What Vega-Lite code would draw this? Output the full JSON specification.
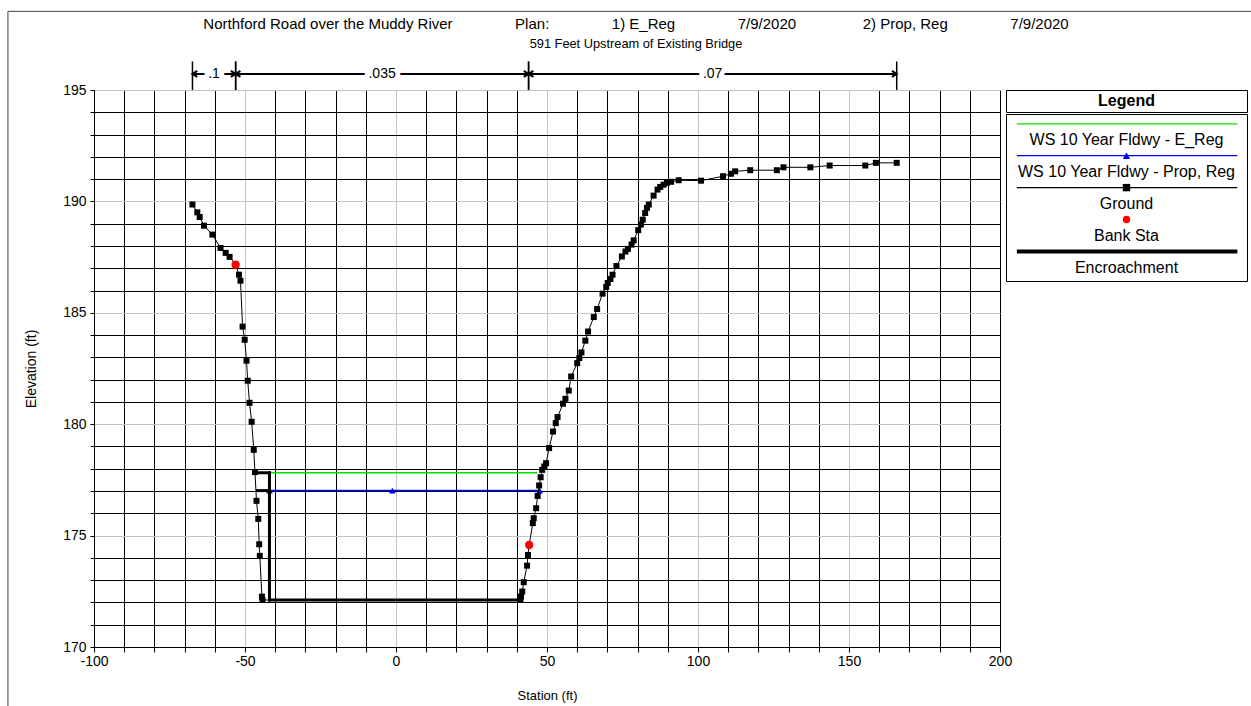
{
  "$schema": "https://vega.github.io/schema/vega-lite/v6.json",
  "autosize": {"type": "none"},
  "padding": {"left": 94, "top": 90, "right": 1157, "bottom": 616},
  "background": "white",
  "bounds": "flush",
  "spacing": 6,
  "title": {
    "text": "Northford Road over the Muddy River\u00a0\u00a0\u00a0\u00a0\u00a0\u00a0\u00a0\u00a0\u00a0\u00a0\u00a0\u00a0\u00a0\u00a0\u00a0Plan:\u00a0\u00a0\u00a0\u00a0\u00a0\u00a0\u00a0\u00a0\u00a0\u00a0\u00a0\u00a0\u00a0\u00a0\u00a01) E_Reg\u00a0\u00a0\u00a0\u00a0\u00a0\u00a0\u00a0\u00a0\u00a0\u00a0\u00a0\u00a0\u00a0\u00a0\u00a07/9/2020\u00a0\u00a0\u00a0\u00a0\u00a0\u00a0\u00a0\u00a0\u00a0\u00a0\u00a0\u00a0\u00a0\u00a0\u00a0\u00a02) Prop, Reg\u00a0\u00a0\u00a0\u00a0\u00a0\u00a0\u00a0\u00a0\u00a0\u00a0\u00a0\u00a0\u00a0\u00a0\u00a07/9/2020",
    "subtitle": "591 Feet Upstream of Existing Bridge",
    "fontSize": 15,
    "fontWeight": "normal",
    "subtitleFontSize": 12.8,
    "subtitlePadding": 6,
    "anchor": "middle",
    "frame": "group",
    "dx": 542,
    "offset": -40,
    "color": "black",
    "subtitleColor": "black"
  },
  "config": {
    "font": "Liberation Sans",
    "view": {"stroke": null},
    "axis": {
      "labelFont": "Liberation Sans",
      "titleFont": "Liberation Sans",
      "labelColor": "black",
      "titleColor": "black",
      "titleFontWeight": "normal",
      "domainColor": "black",
      "tickColor": "black",
      "labelFlush": false,
      "labelOverlap": false,
      "labelBound": false
    },
    "axisX": {"tickCount": 60},
    "axisY": {"tickCount": 60}
  },
  "datasets": {
    "ground": [
      {"station": -67.4, "elevation": 189.86},
      {"station": -65.8, "elevation": 189.51},
      {"station": -65.0, "elevation": 189.30},
      {"station": -63.6, "elevation": 188.91},
      {"station": -60.8, "elevation": 188.51},
      {"station": -58.1, "elevation": 187.91},
      {"station": -56.4, "elevation": 187.69},
      {"station": -55.1, "elevation": 187.51},
      {"station": -53.1, "elevation": 187.16},
      {"station": -52.0, "elevation": 186.71},
      {"station": -51.5, "elevation": 186.44},
      {"station": -50.8, "elevation": 184.38},
      {"station": -50.1, "elevation": 183.79},
      {"station": -49.5, "elevation": 182.85},
      {"station": -49.1, "elevation": 181.95},
      {"station": -48.5, "elevation": 180.96},
      {"station": -47.8, "elevation": 180.11},
      {"station": -47.1, "elevation": 178.85},
      {"station": -46.7, "elevation": 177.85},
      {"station": -46.2, "elevation": 176.56},
      {"station": -45.6, "elevation": 175.75},
      {"station": -45.3, "elevation": 174.61},
      {"station": -45.1, "elevation": 174.09},
      {"station": -44.4, "elevation": 172.26},
      {"station": -44.2, "elevation": 172.11},
      {"station": 41.2, "elevation": 172.11},
      {"station": 41.4, "elevation": 172.26},
      {"station": 41.8, "elevation": 172.49},
      {"station": 42.3, "elevation": 172.91},
      {"station": 43.4, "elevation": 173.65},
      {"station": 43.7, "elevation": 174.13},
      {"station": 44.1, "elevation": 174.58},
      {"station": 45.3, "elevation": 175.56},
      {"station": 45.6, "elevation": 175.78},
      {"station": 46.4, "elevation": 176.23},
      {"station": 46.9, "elevation": 176.78},
      {"station": 47.4, "elevation": 177.25},
      {"station": 47.9, "elevation": 177.62},
      {"station": 48.4, "elevation": 177.95},
      {"station": 49.1, "elevation": 178.10},
      {"station": 49.7, "elevation": 178.25},
      {"station": 50.7, "elevation": 178.93},
      {"station": 52.0, "elevation": 179.67},
      {"station": 52.9, "elevation": 180.05},
      {"station": 53.5, "elevation": 180.32},
      {"station": 55.3, "elevation": 180.92},
      {"station": 56.1, "elevation": 181.14},
      {"station": 57.2, "elevation": 181.51},
      {"station": 58.0, "elevation": 182.14},
      {"station": 60.0, "elevation": 182.74},
      {"station": 60.7, "elevation": 182.97},
      {"station": 61.4, "elevation": 183.22},
      {"station": 62.7, "elevation": 183.75},
      {"station": 63.6, "elevation": 184.16},
      {"station": 65.5, "elevation": 184.81},
      {"station": 66.6, "elevation": 185.17},
      {"station": 68.4, "elevation": 185.86},
      {"station": 69.6, "elevation": 186.16},
      {"station": 70.1, "elevation": 186.34},
      {"station": 71.0, "elevation": 186.52},
      {"station": 71.7, "elevation": 186.71},
      {"station": 73.0, "elevation": 187.10},
      {"station": 74.8, "elevation": 187.53},
      {"station": 76.0, "elevation": 187.75},
      {"station": 76.8, "elevation": 187.87},
      {"station": 78.0, "elevation": 188.06},
      {"station": 78.7, "elevation": 188.25},
      {"station": 80.2, "elevation": 188.71},
      {"station": 81.1, "elevation": 188.96},
      {"station": 81.7, "elevation": 189.18},
      {"station": 82.5, "elevation": 189.48},
      {"station": 83.1, "elevation": 189.71},
      {"station": 83.7, "elevation": 189.86},
      {"station": 85.3, "elevation": 190.26},
      {"station": 86.6, "elevation": 190.53},
      {"station": 87.5, "elevation": 190.65},
      {"station": 88.6, "elevation": 190.75},
      {"station": 89.7, "elevation": 190.83},
      {"station": 91.1, "elevation": 190.88},
      {"station": 93.6, "elevation": 190.95},
      {"station": 101.0, "elevation": 190.93},
      {"station": 108.3, "elevation": 191.13},
      {"station": 110.9, "elevation": 191.24},
      {"station": 112.3, "elevation": 191.35},
      {"station": 117.3, "elevation": 191.40},
      {"station": 126.1, "elevation": 191.40},
      {"station": 128.3, "elevation": 191.53},
      {"station": 137.2, "elevation": 191.53},
      {"station": 143.6, "elevation": 191.61},
      {"station": 155.4, "elevation": 191.61},
      {"station": 158.9, "elevation": 191.73},
      {"station": 165.8, "elevation": 191.73}
    ],
    "bank": [
      {"station": -53.1, "elevation": 187.16},
      {"station": 44.1, "elevation": 174.58}
    ],
    "ws": [
      {"plan": "E_Reg", "station": -41.8, "elevation": 177.82},
      {"plan": "E_Reg", "station": 46.7, "elevation": 177.82},
      {"plan": "Prop, Reg", "station": -41.9, "elevation": 177.02},
      {"plan": "Prop, Reg", "station": -1.2, "elevation": 177.02},
      {"plan": "Prop, Reg", "station": 47.6, "elevation": 177.02}
    ],
    "encroachment": [
      {"station": -46.7, "elevation": 177.82, "station_end": -41.9, "elevation_end": 177.82},
      {"station": -45.9, "elevation": 177.02, "station_end": -41.9, "elevation_end": 177.02},
      {"station": -41.9, "elevation": 177.82, "station_end": -41.9, "elevation_end": 172.11},
      {"station": -41.9, "elevation": 172.11, "station_end": 41.2, "elevation_end": 172.11}
    ],
    "nvalues": [
      {"n": ".1", "from": -67.4, "to": -53.1, "mid": -60.25},
      {"n": ".035", "from": -53.1, "to": 43.9, "mid": -4.6},
      {"n": ".07", "from": 43.9, "to": 165.8, "mid": 104.85}
    ],
    "frame": [
      {"left": -128.5, "right": 420, "top": 198.53, "bottom": 150}
    ],
    "legend": [
      {"series": "WS 10 Year Fldwy - E_Reg"},
      {"series": "WS 10 Year Fldwy - Prop, Reg"},
      {"series": "Ground"},
      {"series": "Bank Sta"},
      {"series": "Encroachment"}
    ]
  },
  "hconcat": [
    {
      "width": 906,
      "height": 557,
      "layer": [
        {
          "data": {"name": "ws"},
          "transform": [{"filter": "datum.plan === 'E_Reg'"}],
          "mark": {"type": "line", "color": "#00e000", "strokeWidth": 1.5},
          "encoding": {
            "x": {
              "field": "station", "type": "quantitative", "title": "Station (ft)",
              "scale": {"domain": [-100, 200], "nice": false, "zero": false},
              "axis": {
                "values": [-100, -90, -80, -70, -60, -50, -40, -30, -20, -10, 0, 10, 20, 30, 40, 50, 60, 70, 80, 90, 100, 110, 120, 130, 140, 150, 160, 170, 180, 190, 200],
                "tickCount": 60,
                "labelExpr": "datum.value % 50 === 0 ? '' + datum.value : ''",
                "grid": true,
                "gridColor": {"condition": {"test": "datum.value % 50 === 0 && datum.value > -100 && datum.value < 200", "value": "#c4c4c4"}, "value": "black"},
                "gridWidth": 1,
                "tickSize": 5,
                "labelFontSize": 14,
                "labelPadding": 2,
                "titleFontSize": 13,
                "titlePadding": 21
              }
            },
            "y": {
              "field": "elevation", "type": "quantitative", "title": "Elevation (ft)",
              "scale": {"domain": [170, 195], "nice": false, "zero": false},
              "axis": {
                "values": [170, 171, 172, 173, 174, 175, 176, 177, 178, 179, 180, 181, 182, 183, 184, 185, 186, 187, 188, 189, 190, 191, 192, 193, 194, 195],
                "tickCount": 60,
                "labelExpr": "datum.value % 5 === 0 ? '' + datum.value : ''",
                "grid": true,
                "gridColor": {"condition": {"test": "datum.value % 5 === 0 && datum.value > 170", "value": "#c4c4c4"}, "value": "black"},
                "gridWidth": 1,
                "tickSize": 4,
                "labelFontSize": 14,
                "labelPadding": 4,
                "titleFontSize": 14,
                "titlePadding": 24
              }
            }
          }
        },
        {
          "data": {"name": "ws"},
          "transform": [{"filter": "datum.plan === 'Prop, Reg'"}],
          "mark": {"type": "line", "color": "#0000ff", "strokeWidth": 1.5, "point": {"shape": "triangle-up", "size": 45, "filled": true, "color": "#0000ff"}},
          "encoding": {
            "x": {"field": "station", "type": "quantitative", "title": "Station (ft)"},
            "y": {"field": "elevation", "type": "quantitative", "title": "Elevation (ft)"}
          }
        },
        {
          "data": {"name": "ground"},
          "mark": {"type": "line", "color": "black", "strokeWidth": 1, "point": {"shape": "square", "size": 36, "filled": true, "color": "black"}},
          "encoding": {
            "x": {"field": "station", "type": "quantitative", "title": "Station (ft)"},
            "y": {"field": "elevation", "type": "quantitative", "title": "Elevation (ft)"}
          }
        },
        {
          "data": {"name": "encroachment"},
          "mark": {"type": "rule", "color": "black", "strokeWidth": 3, "strokeCap": "square"},
          "encoding": {
            "x": {"field": "station", "type": "quantitative", "title": "Station (ft)"},
            "x2": {"field": "station_end"},
            "y": {"field": "elevation", "type": "quantitative", "title": "Elevation (ft)"},
            "y2": {"field": "elevation_end"}
          }
        },
        {
          "data": {"name": "bank"},
          "mark": {"type": "point", "shape": "circle", "size": 70, "filled": true, "color": "#ff0000", "opacity": 1},
          "encoding": {
            "x": {"field": "station", "type": "quantitative", "title": "Station (ft)"},
            "y": {"field": "elevation", "type": "quantitative", "title": "Elevation (ft)"}
          }
        },
        {
          "data": {"name": "frame"},
          "mark": {"type": "rect", "fill": null, "fillOpacity": 0, "stroke": "#444444", "strokeWidth": 1},
          "encoding": {
            "x": {"field": "left", "type": "quantitative", "title": "Station (ft)"},
            "x2": {"field": "right"},
            "y": {"field": "top", "type": "quantitative", "title": "Elevation (ft)"},
            "y2": {"field": "bottom"}
          }
        },
        {
          "data": {"name": "nvalues"},
          "mark": {"type": "rule", "color": "black", "strokeWidth": 1.5},
          "encoding": {
            "x": {"field": "from", "type": "quantitative", "title": "Station (ft)"},
            "y": {"datum": 195},
            "y2": {"datum": 196.28}
          }
        },
        {
          "data": {"name": "nvalues"},
          "mark": {"type": "rule", "color": "black", "strokeWidth": 1.5},
          "encoding": {
            "x": {"field": "to", "type": "quantitative", "title": "Station (ft)"},
            "y": {"datum": 195},
            "y2": {"datum": 196.28}
          }
        },
        {
          "data": {"name": "nvalues"},
          "mark": {"type": "rule", "color": "black", "strokeWidth": 2},
          "encoding": {
            "x": {"field": "from", "type": "quantitative", "title": "Station (ft)"},
            "x2": {"field": "to"},
            "y": {"datum": 195.72}
          }
        },
        {
          "data": {"name": "nvalues"},
          "mark": {"type": "point", "shape": "M 1.6 -1 L 0 0 L 1.6 1", "size": 36, "filled": false, "color": "black", "strokeWidth": 2, "opacity": 1},
          "encoding": {
            "x": {"field": "from", "type": "quantitative", "title": "Station (ft)"},
            "y": {"datum": 195.72}
          }
        },
        {
          "data": {"name": "nvalues"},
          "mark": {"type": "point", "shape": "M -1.6 -1 L 0 0 L -1.6 1", "size": 36, "filled": false, "color": "black", "strokeWidth": 2, "opacity": 1},
          "encoding": {
            "x": {"field": "to", "type": "quantitative", "title": "Station (ft)"},
            "y": {"datum": 195.72}
          }
        },
        {
          "data": {"name": "nvalues"},
          "mark": {"type": "text", "fontSize": 14, "stroke": "white", "strokeWidth": 10, "fill": "white", "baseline": "middle", "align": "center"},
          "encoding": {
            "x": {"field": "mid", "type": "quantitative", "title": "Station (ft)"},
            "y": {"datum": 195.7},
            "text": {"field": "n"}
          }
        },
        {
          "data": {"name": "nvalues"},
          "mark": {"type": "text", "fontSize": 14, "color": "black", "baseline": "middle", "align": "center"},
          "encoding": {
            "x": {"field": "mid", "type": "quantitative", "title": "Station (ft)"},
            "y": {"datum": 195.7},
            "text": {"field": "n"}
          }
        }
      ]
    },
    {
      "spacing": 0,
      "vconcat": [
        {
          "width": 241,
          "height": 22,
          "view": {"stroke": "black", "strokeWidth": 1},
          "data": {"values": [{"header": "Legend"}]},
          "mark": {"type": "text", "fontSize": 16, "fontWeight": "bold", "color": "black", "baseline": "middle"},
          "encoding": {"text": {"field": "header"}}
        },
        {
          "width": 241,
          "height": 167,
          "view": {"stroke": "black", "strokeWidth": 1},
          "data": {"name": "legend"},
          "layer": [
            {
              "transform": [{"filter": "datum.series !== 'Bank Sta' && datum.series !== 'Encroachment'"}],
              "mark": {"type": "rule", "strokeWidth": 1.2},
              "encoding": {
                "x": {"datum": 0.045, "type": "quantitative", "scale": {"domain": [0, 1]}, "axis": null},
                "x2": {"datum": 0.96},
                "y": {"field": "series", "type": "nominal", "bandPosition": 0.19, "axis": null,
                      "scale": {"type": "band", "paddingInner": 0, "paddingOuter": 0.118,
                                "domain": ["WS 10 Year Fldwy - E_Reg", "WS 10 Year Fldwy - Prop, Reg", "Ground", "Bank Sta", "Encroachment"]}},
                "color": {"field": "series", "type": "nominal", "legend": null,
                          "scale": {"domain": ["WS 10 Year Fldwy - E_Reg", "WS 10 Year Fldwy - Prop, Reg", "Ground", "Bank Sta", "Encroachment"],
                                    "range": ["#00e000", "#0000ff", "black", "#ff0000", "black"]}}
              }
            },
            {
              "transform": [{"filter": "datum.series === 'Encroachment'"}],
              "mark": {"type": "rule", "strokeWidth": 4, "color": "black"},
              "encoding": {
                "x": {"datum": 0.045, "type": "quantitative"},
                "x2": {"datum": 0.96},
                "y": {"field": "series", "type": "nominal", "bandPosition": 0.19}
              }
            },
            {
              "transform": [{"filter": "datum.series === 'WS 10 Year Fldwy - Prop, Reg' || datum.series === 'Ground' || datum.series === 'Bank Sta'"}],
              "mark": {"type": "point", "filled": true, "size": 55, "opacity": 1},
              "encoding": {
                "x": {"datum": 0.5, "type": "quantitative"},
                "y": {"field": "series", "type": "nominal", "bandPosition": 0.19},
                "shape": {"field": "series", "type": "nominal", "legend": null,
                          "scale": {"domain": ["WS 10 Year Fldwy - Prop, Reg", "Ground", "Bank Sta"], "range": ["triangle-up", "square", "circle"]}},
                "color": {"field": "series", "type": "nominal", "legend": null}
              }
            },
            {
              "mark": {"type": "text", "fontSize": 16, "color": "black", "baseline": "middle", "align": "center"},
              "encoding": {
                "x": {"datum": 0.5, "type": "quantitative"},
                "y": {"field": "series", "type": "nominal", "bandPosition": 0.71},
                "text": {"field": "series"}
              }
            }
          ]
        }
      ]
    }
  ]
}
